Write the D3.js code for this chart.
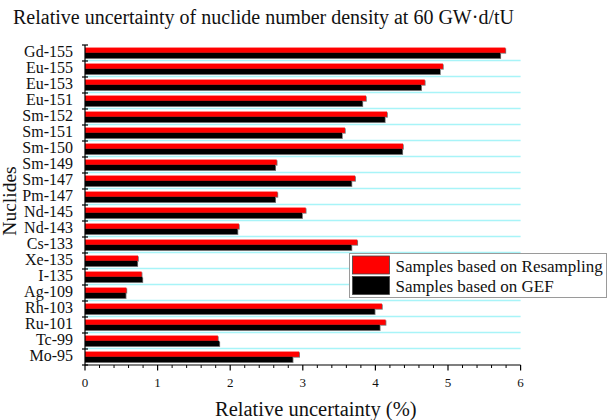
<!DOCTYPE html>
<html>
<head>
<meta charset="utf-8">
<script src="https://cdn.jsdelivr.net/npm/d3@7"></script>
<style>
  html, body { margin: 0; padding: 0; background: #fff; }
  svg { display: block; font-family: "Liberation Serif", "Times New Roman", serif; }
</style>
</head>
<body>
<svg id="chart" width="612" height="420"></svg>
<script>
// Nuclides, top to bottom
const nuclides = ["Gd-155", "Eu-155", "Eu-153", "Eu-151", "Sm-152", "Sm-151", "Sm-150",
  "Sm-149", "Sm-147", "Pm-147", "Nd-145", "Nd-143", "Cs-133", "Xe-135", "I-135",
  "Ag-109", "Rh-103", "Ru-101", "Tc-99", "Mo-95"];

// Relative uncertainty (%) from resampling-based samples
const resampling = [5.79, 4.93, 4.68, 3.87, 4.16, 3.58, 4.38, 2.64, 3.72, 2.65,
  3.04, 2.12, 3.75, 0.73, 0.78, 0.57, 4.09, 4.14, 1.83, 2.95];

// Relative uncertainty (%) from GEF-based samples
const gef = [5.72, 4.89, 4.63, 3.82, 4.13, 3.54, 4.37, 2.62, 3.67, 2.62,
  2.99, 2.10, 3.67, 0.72, 0.79, 0.56, 3.99, 4.06, 1.85, 2.86];

const xTicks = [0, 1, 2, 3, 4, 5, 6];
const seriesNames = ["Samples based on Resampling", "Samples based on GEF"];
const seriesColors = ["#ff0000", "#000000"];

const svg = d3.select("#chart");
const plotLeft = 85, plotRight = 520.6, plotTop = 45, plotBottom = 365;

const x = d3.scaleLinear().domain([0, 6]).range([plotLeft, plotRight]);
const y = d3.scaleBand().domain(nuclides).range([plotTop, plotBottom]).padding(0);
const bw = y.bandwidth();
const barH = bw * 0.33;
const barOff = bw * 0.16;

// Title
svg.append("text")
  .attr("x", 13).attr("y", 24)
  .attr("font-size", 20)
  .attr("fill", "#111")
  .text("Relative uncertainty of nuclide number density at 60 GW\u00B7d/tU");

// Light cyan separators between categories
svg.append("g").selectAll("line")
  .data(nuclides.slice(1))
  .join("line")
  .attr("x1", plotLeft).attr("x2", plotRight)
  .attr("y1", d => y(d) - 0.5).attr("y2", d => y(d) - 0.5)
  .attr("stroke", "#a8f4f8").attr("stroke-width", 1.3);

// Bars with a soft gray edge
const series = [resampling, gef];
series.forEach((vals, si) => {
  const g = svg.append("g");
  g.selectAll("rect.shadow")
    .data(nuclides)
    .join("rect")
    .attr("class", "shadow")
    .attr("x", x(0))
    .attr("y", d => y(d) + barOff + si * barH + 0.8)
    .attr("width", (d, i) => x(vals[i]) - x(0) + 0.8)
    .attr("height", barH)
    .attr("fill", "#777");
  g.selectAll("rect.bar")
    .data(nuclides)
    .join("rect")
    .attr("class", "bar")
    .attr("x", x(0))
    .attr("y", d => y(d) + barOff + si * barH)
    .attr("width", (d, i) => x(vals[i]) - x(0))
    .attr("height", barH)
    .attr("fill", seriesColors[si]);
});

// X axis with minor ticks
const xAxisG = svg.append("g").attr("transform", `translate(0,${plotBottom})`);
xAxisG.append("line").attr("x1", plotLeft).attr("x2", plotRight).attr("stroke", "#000").attr("stroke-width", 1.2);
const minor = d3.range(0, 6.001, 0.2).filter(v => Math.abs(v - Math.round(v)) > 1e-6);
xAxisG.selectAll("line.minor").data(minor).join("line")
  .attr("class", "minor")
  .attr("x1", d => x(d)).attr("x2", d => x(d))
  .attr("y1", 0).attr("y2", 3)
  .attr("stroke", "#000").attr("stroke-width", 1);
xAxisG.selectAll("line.major").data(xTicks).join("line")
  .attr("class", "major")
  .attr("x1", d => x(d)).attr("x2", d => x(d))
  .attr("y1", 0).attr("y2", 5.5)
  .attr("stroke", "#000").attr("stroke-width", 1.2);
xAxisG.selectAll("text").data(xTicks).join("text")
  .attr("x", d => x(d)).attr("y", 22)
  .attr("text-anchor", "middle")
  .attr("font-size", 13)
  .attr("fill", "#111")
  .text(d => d);

svg.append("text")
  .attr("x", (plotLeft + plotRight) / 2 + 13).attr("y", 416)
  .attr("text-anchor", "middle")
  .attr("font-size", 20.5)
  .attr("fill", "#111")
  .text("Relative uncertainty (%)");

// Y axis: ticks on category boundaries, labels centred in each band
const yAxisG = svg.append("g");
yAxisG.append("line").attr("x1", plotLeft).attr("x2", plotLeft).attr("y1", plotTop).attr("y2", plotBottom)
  .attr("stroke", "#000").attr("stroke-width", 1.2);
const boundaries = nuclides.map(d => y(d)).concat([plotBottom]);
yAxisG.selectAll("line.tick").data(boundaries).join("line")
  .attr("class", "tick")
  .attr("x1", plotLeft - 3).attr("x2", plotLeft + 3)
  .attr("y1", d => d).attr("y2", d => d)
  .attr("stroke", "#000").attr("stroke-width", 1.2);
yAxisG.selectAll("text").data(nuclides).join("text")
  .attr("x", 73)
  .attr("y", d => y(d) + bw / 2 + 4.2)
  .attr("text-anchor", "end")
  .attr("font-size", 16)
  .attr("fill", "#111")
  .text(d => d);

svg.append("text")
  .attr("transform", `translate(16,${(plotTop + plotBottom) / 2 - 4}) rotate(-90)`)
  .attr("text-anchor", "middle")
  .attr("font-size", 19.5)
  .attr("fill", "#111")
  .text("Nuclides");

// Legend
const lg = svg.append("g").attr("transform", "translate(349.5,253.5)");
lg.append("rect").attr("width", 257).attr("height", 44)
  .attr("fill", "#fff").attr("stroke", "#9a9a9a").attr("stroke-width", 1);
seriesNames.forEach((name, i) => {
  lg.append("rect")
    .attr("x", 3).attr("y", 2.5 + i * 20.5)
    .attr("width", 37).attr("height", 18)
    .attr("fill", seriesColors[i])
    .attr("stroke", "#444").attr("stroke-width", 0.8);
  lg.append("text")
    .attr("x", 46).attr("y", 18 + i * 20.5)
    .attr("font-size", 17)
    .attr("fill", "#111")
    .text(name);
});
</script>
</body>
</html>
